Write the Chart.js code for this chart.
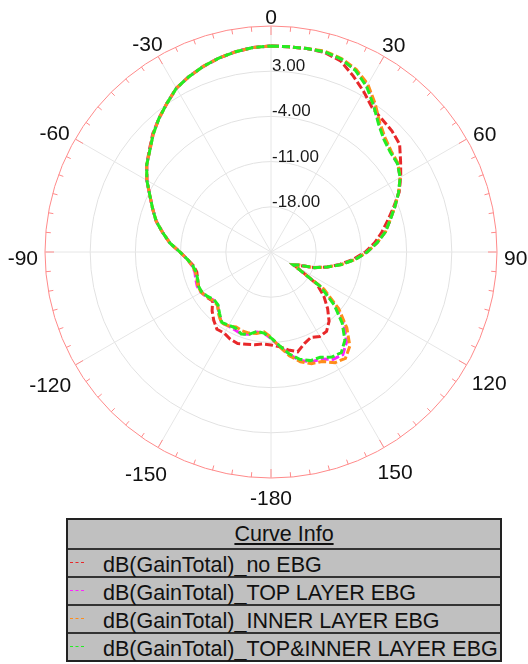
<!DOCTYPE html>
<html>
<head>
<meta charset="utf-8">
<script src="https://cdn.jsdelivr.net/npm/chart.js"></script>
<style>
  html, body { margin: 0; padding: 0; background: #fff; }
  body { width: 528px; height: 664px; position: relative; overflow: hidden; font-family: "Liberation Sans", Arial, sans-serif; }
  #chart { position: absolute; left: 0; top: 0; }
  .legend { position: absolute; left: 66px; top: 518px; width: 432px; background: #c0c0c0; border: 2px solid #222; }
  .legend .head { height: 28px; line-height: 28px; text-align: center; font-size: 21.5px; color: #111; border-bottom: 2px solid #333; }
  .legend .head span { text-decoration: underline; }
  .legend .row { height: 26px; position: relative; border-bottom: 2px solid #333; font-size: 21.5px; color: #111; }
  .legend .row:last-child { border-bottom: none; }
  .legend .row .txt { position: absolute; left: 35px; top: 3px; line-height: 24px; white-space: nowrap; }
  .legend .row .mk { position: absolute; left: 2px; top: 12px; width: 14px; height: 0; border-top: 1.5px dashed; }
</style>
</head>
<body>
<canvas id="chart" width="528" height="510"></canvas>
<div class="legend" id="legend">
  <div class="head"><span>Curve Info</span></div>
</div>
<script>
// angle categories (deg, clockwise from top); 180..355 are shown as -180..-5
const angles = [0,5,10,15,20,25,30,35,40,45,50,55,60,65,70,75,80,85,90,95,100,105,110,115,
  120,125,130,135,140,145,150,155,160,165,170,175,180,185,190,195,200,205,210,215,220,225,230,235,
  240,245,250,255,260,265,270,275,280,285,290,295,300,305,310,315,320,325,330,335,340,345,350,355];

// radial scale (dB)
const rMin = -25, rMax = 10, rStep = 7;
const ringLabels = [3, -4, -11, -18];

const seriesNames = [
  'dB(GainTotal)_no EBG',
  'dB(GainTotal)_TOP LAYER EBG',
  'dB(GainTotal)_INNER LAYER EBG',
  'dB(GainTotal)_TOP&INNER LAYER EBG'
];
const seriesColors = ['#e8282a', '#ff22ff', '#ff8c1a', '#22ee22'];

const noEbg = [6.9,6.9,7.0,7.0,6.5,5.1,3.7,2.3,1.8,1.5,1.0,-0.5,-1.8,-3.1,-4.8,-6.3,-7.6,-8.9,-10.4,-12.2,-14.1,-16.0,-18.0,-20.0,
  -20.6,-16.3,-14.3,-12.6,-11.0,-10.0,-9.9,-10.4,-9.9,-9.0,-9.6,-10.3,-10.6,-10.7,-10.4,-10.2,-9.9,-10.1,-10.5,-10.4,-11.2,-12.1,-13.2,-12.8,
  -12.6,-12.6,-12.9,-13.1,-12.8,-12.0,-10.9,-9.3,-8.0,-6.6,-5.5,-4.3,-2.8,-1.5,-0.4,0.9,2.0,3.1,4.3,5.0,5.6,6.1,6.5,6.8];
const topEbg = [6.9,6.9,7.0,7.1,6.8,6.1,4.8,2.9,1.0,-0.2,-0.8,-1.1,-1.9,-3.2,-4.6,-5.9,-7.0,-8.5,-10.1,-11.9,-13.9,-16.0,-17.9,-20.2,
  -21.0,-15.3,-11.8,-9.0,-6.8,-5.6,-5.8,-6.7,-6.9,-7.6,-8.9,-10.4,-11.6,-12.4,-12.4,-11.8,-11.5,-11.7,-11.8,-11.6,-12.5,-13.3,-13.4,-12.9,
  -12.5,-12.4,-12.6,-12.8,-12.6,-12.0,-10.9,-9.3,-8.0,-6.6,-5.5,-4.3,-2.8,-1.5,-0.5,0.8,2.0,3.1,4.3,5.0,5.6,6.1,6.5,6.8];
const innerEbg = [6.9,6.9,7.0,7.2,6.9,6.2,5.0,3.1,1.2,0.0,-0.7,-1.0,-1.9,-3.2,-4.6,-5.9,-7.0,-8.5,-10.1,-11.9,-13.9,-16.0,-17.9,-20.2,
  -21.0,-15.0,-11.3,-8.4,-6.0,-4.9,-5.2,-6.3,-6.6,-7.4,-8.7,-10.3,-11.8,-12.6,-12.2,-12.0,-12.0,-12.2,-11.8,-11.6,-12.4,-13.3,-13.3,-12.9,
  -12.5,-12.5,-12.8,-12.9,-12.6,-12.0,-10.9,-9.3,-8.0,-6.6,-5.5,-4.3,-2.8,-1.5,-0.5,0.8,2.0,3.1,4.3,5.0,5.6,6.1,6.5,6.8];
const topInnerEbg = [6.9,6.9,7.0,7.1,6.8,6.0,4.6,2.7,0.9,-0.3,-0.9,-1.1,-1.9,-3.2,-4.6,-5.9,-7.0,-8.5,-10.1,-11.9,-13.9,-16.0,-17.9,-20.2,
  -21.0,-15.6,-12.2,-9.4,-7.2,-6.0,-6.2,-7.0,-7.1,-7.8,-9.0,-10.5,-11.7,-12.4,-12.5,-11.8,-11.5,-12.0,-11.9,-11.7,-12.6,-13.4,-13.5,-13.0,
  -12.6,-12.6,-12.9,-13.0,-12.7,-12.0,-10.9,-9.3,-8.0,-6.6,-5.5,-4.3,-2.8,-1.5,-0.5,0.8,2.0,3.1,4.3,5.0,5.6,6.1,6.5,6.8];

const seriesData = [noEbg, topEbg, innerEbg, topInnerEbg];
const drawOrder = [3, 2, 1, 0]; // lower = on top, green last series on top

function angleText(a){ return String(a >= 180 ? a - 360 : a); }

const LABEL_FONT = '21px "Liberation Sans", Arial, sans-serif';

// outer-ring tick marks, angle labels and left-aligned ring labels
const polarDecor = {
  id: 'polarDecor',
  afterDraw(chart){
    const s = chart.scales.r, ctx = chart.ctx;
    const R = s.drawingArea;
    ctx.save();
    ctx.strokeStyle = '#ff8a8a';
    ctx.lineWidth = 1;
    angles.forEach((a, i) => {
      const len = a % 30 === 0 ? 9 : 5;
      const p1 = s.getPointPosition(i, R), p2 = s.getPointPosition(i, R - len);
      ctx.beginPath(); ctx.moveTo(p1.x, p1.y); ctx.lineTo(p2.x, p2.y); ctx.stroke();
    });

    // angle labels, placed just outside the ring (a bit lower, like the original)
    ctx.fillStyle = '#111';
    ctx.font = LABEL_FONT;
    ctx.textAlign = 'center';
    ctx.textBaseline = 'alphabetic';
    const capH = 15;
    angles.forEach((a, i) => {
      if (a % 30 !== 0) return;
      const txt = angleText(a);
      const p = s.getPointPosition(i, 1);
      const ux = p.x - s.xCenter, uy = p.y - s.yCenter;
      const hw = ctx.measureText(txt).width / 2;
      const d = hw * Math.abs(ux) + (capH / 2) * Math.abs(uy);
      const q = s.getPointPosition(i, R + 7 + d);
      ctx.fillText(txt, q.x, q.y + 5 + capH / 2);
    });

    ctx.fillStyle = '#1a1a1a';
    ctx.font = '17px "Liberation Sans", Arial, sans-serif';
    ctx.textAlign = 'left';
    ringLabels.forEach(v => {
      const y = s.yCenter - s.getDistanceFromCenterForValue(v);
      ctx.fillText(v.toFixed(2), s.xCenter + 1, y);
    });
    ctx.restore();
  }
};

new Chart(document.getElementById('chart'), {
  type: 'radar',
  data: {
    labels: angles,
    datasets: seriesData.map((d, i) => ({
      label: seriesNames[i],
      data: d,
      borderColor: seriesColors[i],
      borderWidth: 3,
      borderDash: [8, 3],
      fill: false,
      pointRadius: 0,
      order: drawOrder[i]
    }))
  },
  options: {
    responsive: false,
    animation: false,
    devicePixelRatio: 1,
    layout: { padding: { left: 45, right: 31, top: 26, bottom: 32 } },
    plugins: { legend: { display: false }, tooltip: { enabled: false } },
    scales: {
      r: {
        min: rMin, max: rMax,
        ticks: { stepSize: rStep, display: false },
        grid: {
          circular: true,
          color: c => c.tick && c.tick.value === rMax ? '#ff8a8a' : '#e2e2e2',
          lineWidth: 1
        },
        angleLines: {
          color: '#e6e6e6',
          lineWidth: c => angles[c.index] % 30 === 0 ? 1 : 0
        },
        pointLabels: { display: false }
      }
    }
  },
  plugins: [polarDecor]
});

// legend table
const legend = document.getElementById('legend');
seriesNames.forEach((name, i) => {
  const row = document.createElement('div');
  row.className = 'row';
  row.innerHTML = '<div class="mk" style="border-color:' + seriesColors[i] + '"></div><div class="txt"></div>';
  row.querySelector('.txt').textContent = name;
  legend.appendChild(row);
});
</script>
</body>
</html>
